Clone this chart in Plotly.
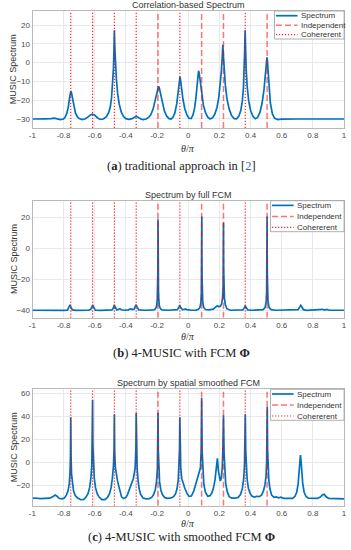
import plotly.graph_objects as go

W, H = 351, 550

# ---------------- data ----------------
theta1 = [-1.0, -0.96, -0.92, -0.88, -0.86, -0.84, -0.82, -0.80, -0.79, -0.78, -0.77, -0.763, -0.758, -0.754, -0.750,
          -0.744, -0.735, -0.724, -0.712, -0.70, -0.68, -0.66, -0.645, -0.63, -0.614, -0.60, -0.585, -0.565, -0.545,
          -0.525, -0.51, -0.50, -0.492, -0.485, -0.48, -0.477, -0.474, -0.471, -0.467, -0.461, -0.453, -0.443, -0.43,
          -0.415, -0.40, -0.38, -0.36, -0.345, -0.334, -0.322, -0.305, -0.29, -0.27, -0.255, -0.24, -0.225, -0.213,
          -0.203, -0.196, -0.191, -0.186, -0.178, -0.167, -0.153, -0.138, -0.123, -0.11, -0.097, -0.085, -0.074,
          -0.066, -0.060, -0.056, -0.053, -0.049, -0.043, -0.034, -0.022, -0.008, 0.005, 0.018, 0.030, 0.040, 0.049,
          0.057, 0.062, 0.066, 0.070, 0.076, 0.085, 0.097, 0.110, 0.125, 0.14, 0.155, 0.17, 0.184, 0.196, 0.206,
          0.213, 0.218, 0.222, 0.226, 0.231, 0.238, 0.248, 0.262, 0.278, 0.295, 0.31, 0.325, 0.337, 0.347, 0.354,
          0.359, 0.362, 0.365, 0.368, 0.372, 0.378, 0.388, 0.40, 0.415, 0.43, 0.445, 0.46, 0.474, 0.486, 0.495,
          0.501, 0.505, 0.508, 0.512, 0.518, 0.527, 0.54, 0.555, 0.575, 0.6, 0.7, 0.8, 0.9, 1.0]
spec1 = [-30.0, -30.1, -29.9, -29.8, -29.5, -29.9, -30.3, -30.0, -29.0, -27.2, -23.8, -19.5, -16.2, -15.2, -15.8,
         -18.5, -23.0, -26.8, -28.8, -29.8, -30.3, -29.9, -29.0, -28.0, -27.5, -28.0, -29.2, -30.2, -30.0,
         -28.8, -26.5, -23.5, -18.5, -11.0, -3.0, 6.0, 17.2, 8.0, -1.0, -9.0, -16.5, -22.0, -26.2,
         -28.7, -29.8, -30.2, -29.8, -29.0, -28.6, -29.1, -30.0, -30.3, -30.0, -29.2, -27.6, -24.6, -20.5,
         -16.0, -13.3, -12.6, -13.4, -16.5, -21.5, -25.8, -28.5, -29.8, -30.0, -29.0, -26.5, -22.0,
         -16.5, -11.5, -8.0, -7.4, -9.5, -13.8, -19.5, -24.5, -28.0, -29.6, -29.8, -28.0, -24.5, -19.0,
         -11.5, -6.5, -4.3, -5.5, -10.0, -16.5, -22.5, -26.5, -29.0, -30.0, -29.4, -27.5, -24.0, -18.5, -11.5,
         -4.0, 3.0, 9.5, 3.0, -4.5, -12.0, -19.0, -24.5, -28.2, -29.8, -29.9, -28.5, -25.5, -20.5, -13.5,
         -4.0, 6.0, 17.2, 6.0, -4.0, -12.5, -20.5, -25.5, -28.6, -29.9, -29.2, -26.5, -21.5, -14.5, -7.0,
         -1.0, 2.8, 1.0, -5.0, -13.0, -21.5, -27.3, -29.7, -30.3, -30.1, -30.0, -30.0, -30.0, -30.0]

theta2 = [-1.0, -0.95, -0.90, -0.85, -0.80, -0.775, -0.766, -0.759, -0.752, -0.744, -0.72, -0.68, -0.64, -0.626,
          -0.618, -0.613, -0.606, -0.596, -0.56, -0.52, -0.49, -0.481, -0.474, -0.467, -0.458, -0.446, -0.438,
          -0.43, -0.41, -0.385, -0.37, -0.358, -0.347, -0.34, -0.335, -0.328, -0.318, -0.28, -0.24, -0.22, -0.21,
          -0.203, -0.199, -0.197, -0.1955, -0.1945, -0.194, -0.1935, -0.1925, -0.191, -0.189, -0.185, -0.178,
          -0.168, -0.13, -0.09, -0.07, -0.061, -0.055, -0.048, -0.038, -0.026, -0.018, -0.01, 0.02, 0.05, 0.065,
          0.075, 0.081, 0.084, 0.0855, 0.0865, 0.087, 0.0875, 0.0885, 0.090, 0.093, 0.099, 0.11, 0.13, 0.16,
          0.175, 0.186, 0.194, 0.205, 0.214, 0.220, 0.2235, 0.2250, 0.2257, 0.2262, 0.2267, 0.2275, 0.229, 0.232,
          0.238, 0.248, 0.27, 0.31, 0.35, 0.36, 0.366, 0.372, 0.382, 0.41, 0.45, 0.48, 0.493, 0.5, 0.503, 0.5045,
          0.5055, 0.506, 0.5065, 0.5075, 0.509, 0.512, 0.519, 0.532, 0.56, 0.62, 0.68, 0.705, 0.715, 0.722, 0.729,
          0.739, 0.76, 0.80, 0.84, 0.862, 0.875, 0.89, 0.905, 0.95, 1.0]
spec2 = [-40.0, -40.1, -39.9, -40.0, -40.1, -39.9, -38.5, -36.6, -38.2, -39.8, -40.1, -40.0, -40.0, -39.4,
         -37.2, -36.6, -38.3, -39.9, -40.1, -39.9, -39.8, -38.6, -36.6, -38.4, -39.8, -39.3, -39.0,
         -39.7, -40.0, -39.7, -39.1, -39.6, -39.2, -37.5, -36.5, -38.0, -39.8, -40.0, -40.1, -39.7, -39.0,
         -37.5, -33.0, -27.0, -17.0, -3.0, 18.7, -3.0, -17.0, -27.0, -33.0, -37.5, -39.0,
         -39.8, -40.0, -40.0, -39.6, -38.2, -36.8, -38.3, -39.6, -39.5, -39.1, -39.6, -40.0, -39.9, -39.4,
         -38.2, -35.0, -29.0, -18.0, -3.0, 20.5, -3.0, -18.0, -29.0, -35.0, -38.2, -39.5, -39.8, -39.3,
         -38.0, -37.1, -37.6, -37.5, -36.0, -32.0, -25.0, -14.0, 0.0, 16.5, 0.0, -14.0, -25.0, -32.0,
         -36.5, -39.0, -40.0, -40.0, -39.8, -38.5, -37.0, -38.4, -39.8, -40.0, -40.0, -39.6, -38.3, -34.5, -28.0, -17.0,
         -3.0, 20.5, -3.0, -17.0, -28.0, -34.5, -38.3, -39.6, -40.0, -40.0, -40.0, -39.6, -38.0, -36.8, -37.9,
         -39.6, -40.1, -40.0, -39.9, -39.4, -39.9, -39.5, -40.0, -40.1, -40.0]

theta3 = [-1.0, -0.98, -0.95, -0.92, -0.89, -0.87, -0.855, -0.842, -0.83, -0.81, -0.795, -0.782, -0.772, -0.764,
          -0.759, -0.756, -0.754, -0.752, -0.749, -0.744, -0.736, -0.725, -0.71, -0.69, -0.67, -0.655, -0.643,
          -0.633, -0.625, -0.619, -0.616, -0.614, -0.612, -0.609, -0.603, -0.595, -0.585, -0.573, -0.555, -0.535,
          -0.518, -0.505, -0.495, -0.487, -0.48, -0.476, -0.474, -0.472, -0.468, -0.462, -0.455, -0.447, -0.438,
          -0.428, -0.415, -0.40, -0.39, -0.378, -0.366, -0.352, -0.341, -0.336, -0.334, -0.332, -0.328, -0.322,
          -0.315, -0.305, -0.29, -0.27, -0.25, -0.235, -0.222, -0.212, -0.204, -0.198, -0.196, -0.194, -0.192,
          -0.19, -0.184, -0.176, -0.166, -0.152, -0.135, -0.115, -0.095, -0.082, -0.072, -0.064, -0.058, -0.056,
          -0.054, -0.052, -0.048, -0.042, -0.032, -0.022, -0.008, 0.005, 0.02, 0.035, 0.048, 0.058, 0.068, 0.078,
          0.083, 0.086, 0.089, 0.093, 0.1, 0.11, 0.125, 0.14, 0.152, 0.162, 0.172, 0.18, 0.187, 0.194, 0.2, 0.206,
          0.212, 0.218, 0.222, 0.226, 0.23, 0.234, 0.24, 0.25, 0.263, 0.28, 0.30, 0.32, 0.335, 0.347, 0.356, 0.361,
          0.363, 0.366, 0.369, 0.372, 0.378, 0.386, 0.397, 0.41, 0.425, 0.44, 0.455, 0.47, 0.482, 0.492, 0.499,
          0.503, 0.505, 0.507, 0.509, 0.512, 0.517, 0.524, 0.535, 0.55, 0.565, 0.58, 0.595, 0.61, 0.64, 0.67,
          0.685, 0.696, 0.705, 0.711, 0.716, 0.72, 0.724, 0.729, 0.735, 0.744, 0.755, 0.77, 0.80, 0.83, 0.85,
          0.862, 0.872, 0.885, 0.90, 0.93, 0.96, 1.0]
spec3 = [-31.3, -31.0, -31.5, -31.6, -31.2, -30.0, -28.4, -29.5, -31.2, -31.8, -31.0, -28.5, -25.0, -19.0,
         -10.0, 5.0, 39.1, 5.0, -10.0, -19.0, -25.0, -28.8, -31.0, -32.5, -32.2, -30.0, -27.0,
         -22.0, -14.0, -3.0, 15.0, 54.2, 15.0, -3.0, -14.0, -22.0, -27.0, -30.0, -32.4, -32.5,
         -30.5, -27.0, -22.0, -14.0, -3.0, 12.0, 41.7, 10.0, -4.0, -12.0, -15.5, -20.0, -26.0,
         -30.0, -31.5, -30.5, -28.0, -23.0, -18.0, -14.0, -5.0, 12.0, 42.9, 10.0, -5.0, -16.0,
         -23.0, -28.0, -31.0, -31.8, -31.5, -30.5, -28.0, -24.0, -17.0, -5.0, 10.0, 43.0, 10.0,
         -5.0, -17.0, -24.0, -28.0, -30.5, -31.3, -31.2, -30.0, -27.5, -23.0, -15.0, -2.0, 12.0,
         39.1, 10.0, -5.0, -14.0, -19.0, -22.5, -27.0, -29.5, -29.3, -25.0, -19.0, -15.0, -11.0, -5.0,
         10.0, 56.0, 10.0, -8.0, -19.0, -26.0, -29.5, -29.0, -26.5, -22.0, -15.0, -5.0, 3.5, -8.0, -14.5, -16.3,
         -14.0, -5.0, 10.0, 41.0, 8.0, -8.0, -18.0, -25.5, -29.8, -31.2, -31.2, -30.5, -28.0, -23.0, -14.0, -2.0,
         12.0, 41.7, 10.0, -3.0, -15.0, -22.5, -27.0, -29.5, -30.2, -29.5, -29.8, -28.5, -25.0, -20.0, -12.0,
         0.0, 15.0, 48.3, 12.0, -4.0, -15.0, -23.0, -28.5, -30.5, -30.0, -30.8, -30.2, -31.3, -31.5, -31.3,
         -29.5, -26.0, -19.0, -9.0, 1.0, 6.4, 1.0, -9.0, -19.0, -26.0, -29.5, -31.2, -31.5, -31.4, -30.0,
         -28.2, -27.8, -30.0, -31.3, -31.7, -31.6, -31.8]

independent = [-0.194, 0.086, 0.226, 0.506]
coherent = [-0.754, -0.614, -0.474, -0.334, -0.054, 0.366]

x_ticks = [-1, -0.8, -0.6, -0.4, -0.2, 0, 0.2, 0.4, 0.6, 0.8, 1]
x_ticklabels = ["-1", "-0.8", "-0.6", "-0.4", "-0.2", "0", "0.2", "0.4", "0.6", "0.8", "1"]
y_ticks = [[-30, -20, -10, 0, 10, 20], [-40, -20, 0, 20], [-20, 0, 20, 40, 60]]
y_ranges = [[-34.8, 27.5], [-44.8, 30.7], [-37.7, 63.5]]
titles = ["Correlation-based Spectrum", "Spectrum by full FCM", "Spectrum by spatial smoothed FCM"]
captions = ["(<b>a</b>) traditional approach in [<span style='color:#3d5cc0'>2</span>]",
            "(<b>b</b>) 4-MUSIC with FCM <b>Φ</b>",
            "(<b>c</b>) 4-MUSIC with smoothed FCM <b>Φ</b>"]
legend_names = ["Spectrum", "Independent", "Cohererent"]
y_label = "MUSIC Spectrum"
x_label = "<i>θ</i>/<i>π</i>"

thetas = [theta1, theta2, theta3]
specs = [spec1, spec2, spec3]

# ---------------- layout geometry (pixels) ----------------
PL, PR = 29, 347
panels = [(11, 128), (200.7, 317.7), (389.3, 505.7)]
caption_y = [165.7, 353.3, 536.5]
xlabel_y = [148.3, 336.0, 523.8]
legend_left = [276, 272, 272]
legend_h = [28, 31, 31]

BLUE = "#0072BD"
DASH_COL = "rgba(255,0,0,0.55)"
DOT_COL = "rgba(255,0,0,0.85)"
SANS = "Liberation Sans, Arial, sans-serif"
SERIF = "Liberation Serif, Times New Roman, serif"


def px(x):
    return x / W


def py(y):
    return 1 - y / H


fig = go.Figure()
annotations = []
shapes = []
layout_axes = {}

for i in range(3):
    k = "" if i == 0 else str(i + 1)
    xa, ya = "x" + k, "y" + k
    top, bot = panels[i]
    lo, hi = y_ranges[i]

    fig.add_trace(go.Scatter(x=thetas[i], y=specs[i], mode="lines", xaxis=xa, yaxis=ya,
                             line=dict(color=BLUE, width=1.7), showlegend=False,
                             name=legend_names[0]))
    xs, ys = [], []
    for v in independent:
        xs += [v, v, None]
        ys += [lo, hi, None]
    fig.add_trace(go.Scatter(x=xs, y=ys, mode="lines", xaxis=xa, yaxis=ya,
                             line=dict(color=DASH_COL, width=1.5, dash="6px,3px"),
                             showlegend=False, name=legend_names[1]))
    xs, ys = [], []
    for v in coherent:
        xs += [v, v, None]
        ys += [lo, hi, None]
    fig.add_trace(go.Scatter(x=xs, y=ys, mode="lines", xaxis=xa, yaxis=ya,
                             line=dict(color=DOT_COL, width=1.2, dash="1.2px,1.8px"),
                             showlegend=False, name=legend_names[2]))

    common = dict(showgrid=True, gridcolor="#e3e3e3", gridwidth=0.8, zeroline=False,
                  showline=True, mirror=True, linecolor="#a8a8a8", linewidth=0.8,
                  ticks="", ticklabeloverflow="allow",
                  tickfont=dict(family=SANS, size=8, color="#4a4a4a"))
    layout_axes["xaxis" + k] = dict(domain=[px(PL), px(PR)], anchor=ya, range=[-1, 1],
                                    tickvals=x_ticks, ticktext=x_ticklabels, **common)
    layout_axes["yaxis" + k] = dict(domain=[py(bot), py(top)], anchor=xa, range=[lo, hi],
                                    tickvals=y_ticks[i], **common)

    # title
    annotations.append(dict(text=titles[i], x=px((PL + PR) / 2), y=py(top), xref="paper", yref="paper",
                            xanchor="center", yanchor="bottom", showarrow=False, yshift=-1,
                            font=dict(family=SANS, size=9, color="#333")))
    # y label
    annotations.append(dict(text=y_label, x=px(10), y=py((top + bot) / 2), xref="paper", yref="paper",
                            xanchor="center", yanchor="middle", showarrow=False, textangle=-90,
                            font=dict(family=SANS, size=9, color="#333")))
    # x label
    annotations.append(dict(text=x_label, x=px((PL + PR) / 2), y=py(xlabel_y[i]), xref="paper", yref="paper",
                            xanchor="center", yanchor="middle", showarrow=False,
                            font=dict(family=SERIF, size=10, color="#333")))
    # caption
    annotations.append(dict(text=captions[i], x=px(181), y=py(caption_y[i]), xref="paper", yref="paper",
                            xanchor="center", yanchor="middle", showarrow=False,
                            font=dict(family=SERIF, size=12.5, color="#222")))

    # legend box (drawn manually to match MATLAB's compact legend)
    lx0, lx1 = legend_left[i], PR
    ly0, ly1 = top, top + legend_h[i]
    shapes.append(dict(type="rect", xref="paper", yref="paper", x0=px(lx0), x1=px(lx1),
                       y0=py(ly1), y1=py(ly0), fillcolor="white", line=dict(color="#9a9a9a", width=0.8),
                       layer="above"))
    styles = [dict(color=BLUE, width=1.7), dict(color=DASH_COL, width=1.5, dash="6px,3px"),
              dict(color=DOT_COL, width=1.2, dash="1.2px,1.8px")]
    step = (legend_h[i] - 9) / 2.0
    for j in range(3):
        ey = ly0 + 4.7 + j * step
        shapes.append(dict(type="line", xref="paper", yref="paper", x0=px(lx0 + 1.5), x1=px(lx0 + 23.5),
                           y0=py(ey), y1=py(ey), line=styles[j], layer="above"))
        annotations.append(dict(text=legend_names[j], x=px(lx0 + 25), y=py(ey), xref="paper", yref="paper",
                                xanchor="left", yanchor="middle", showarrow=False,
                                font=dict(family=SANS, size=8, color="#333")))

fig.update_layout(width=W, height=H, margin=dict(l=0, r=0, t=0, b=0),
                  paper_bgcolor="white", plot_bgcolor="white", hovermode=False,
                  annotations=annotations, shapes=shapes, showlegend=False, **layout_axes)

fig.write_html("out.html", config={"displayModeBar": False, "staticPlot": True},
               post_script="document.body.style.margin='0';document.body.style.padding='0';"
                           "document.body.style.overflow='hidden';")
